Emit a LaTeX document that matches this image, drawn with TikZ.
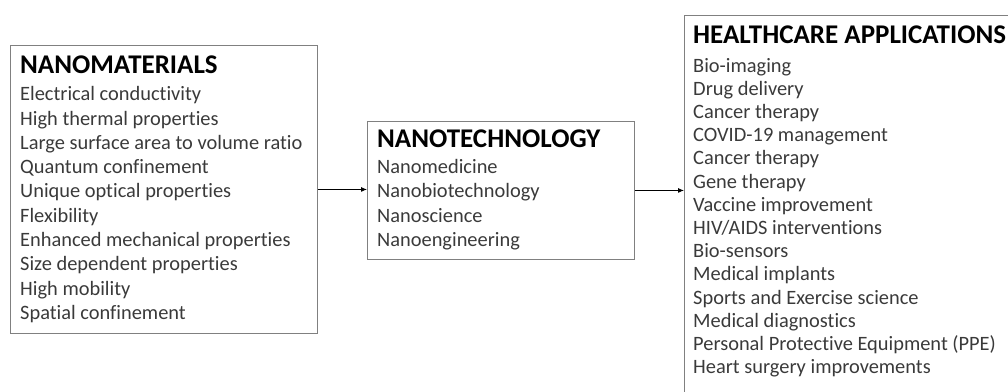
\documentclass[tikz,border=0pt]{standalone}
\usepackage{fontspec}
\setmainfont{Carlito}[Ligatures=NoCommon]
\usetikzlibrary{arrows.meta}
\definecolor{boxgray}{HTML}{808080}
\definecolor{textgray}{HTML}{3A3A3A}
\tikzset{
  panel/.style={draw=boxgray, line width=0.9pt, rectangle, inner sep=0pt, anchor=north west},
  head/.style={anchor=base west, inner sep=0pt, font=\bfseries\fontsize{27}{30}\selectfont},
  item/.style={anchor=base west, inner sep=0pt, text=textgray, font=\fontsize{20.4}{24}\selectfont},
  link/.style={-{Latex[length=6pt,width=5pt]}, line width=0.8pt}
}
\begin{document}
\begin{tikzpicture}[x=1pt, y=-1pt]
    \useasboundingbox (0,0) rectangle (1008,391);
    \clip (0,0) rectangle (1008,391);
    % boxes
    \node[panel, minimum width=307pt, minimum height=288pt] (nanomat) at (10,45) {};
    \node[panel, minimum width=267pt, minimum height=138pt] (nanotech) at (367,121) {};
    \node[panel, minimum width=340pt, minimum height=400pt] (health) at (684,15) {};
    % titles
    \node[head] (matTitle) at (20,73) {NANOMATERIALS};
    \node[head] (techTitle) at (377,147) {NANOTECHNOLOGY};
    \node[head] (healthTitle) at (693,43) {HEALTHCARE APPLICATIONS};
    % lists
    \foreach \txt [count=\i] in {Electrical conductivity, High thermal properties,
        Large surface area to volume ratio, Quantum confinement,
        Unique optical properties, Flexibility, Enhanced mechanical properties,
        Size dependent properties, High mobility, Spatial confinement}
        \node[item] (mat\i) at (20,{100.7+(\i-1)*24.3}) {\txt};
    \foreach \txt [count=\i] in {Nanomedicine, Nanobiotechnology, Nanoscience,
        Nanoengineering}
        \node[item] (tech\i) at (377,{173+(\i-1)*24.6}) {\txt};
    \foreach \txt [count=\i] in {Bio-imaging, Drug delivery, Cancer therapy,
        COVID-19 management, Cancer therapy, Gene therapy, Vaccine improvement,
        HIV/AIDS interventions, Bio-sensors, Medical implants,
        Sports and Exercise science, Medical diagnostics,
        Personal Protective Equipment (PPE), Heart surgery improvements}
        \node[item] (app\i) at (693,{72+(\i-1)*23.2}) {\txt};
    % connectors
    \draw[link] (nanomat.east) -- (nanomat.east -| nanotech.west);
    \draw[link] (nanotech.east) -- (nanotech.east -| health.west);
\end{tikzpicture}
\end{document}
